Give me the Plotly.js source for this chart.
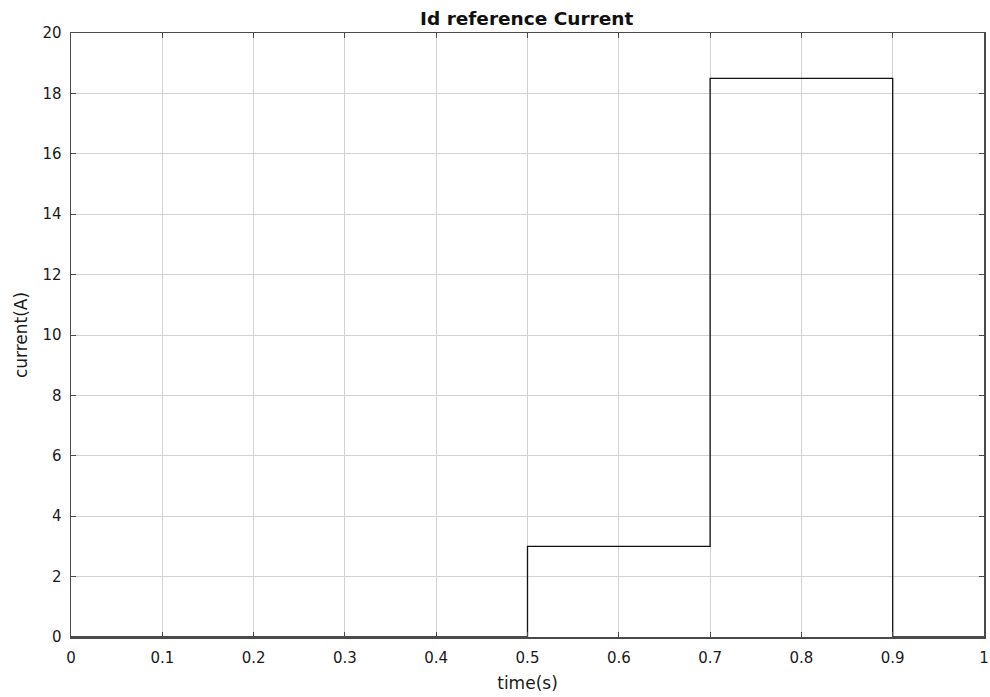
<!DOCTYPE html>
<html>
<head>
<meta charset="utf-8">
<script src="https://cdn.plot.ly/plotly-3.0.1.min.js"></script>
<style>html,body{margin:0;padding:0;background:#fff;}#chart{width:990px;height:697px;}</style>
</head>
<body>
<div id="chart"></div>
<script>
// Step signal: time (s) and current (A)
const timeS = [0, 0.5, 0.5, 0.7, 0.7, 0.9, 0.9, 1.0];
const currentA = [0, 0, 3, 3, 18.5, 18.5, 0, 0];
const xTicks = [0, 0.1, 0.2, 0.3, 0.4, 0.5, 0.6, 0.7, 0.8, 0.9, 1];
const xTickText = ['0', '0.1', '0.2', '0.3', '0.4', '0.5', '0.6', '0.7', '0.8', '0.9', '1'];
const yTicks = [0, 2, 4, 6, 8, 10, 12, 14, 16, 18, 20];

const FAM = 'DejaVu Sans, Liberation Sans, Arial, sans-serif';
const trace = {
  x: timeS, y: currentA, type: 'scatter', mode: 'lines',
  line: {color: '#111', width: 1.3}, hoverinfo: 'skip'
};
const axisCommon = {
  showline: true, linecolor: '#4a4a4a', linewidth: 1.5, mirror: 'ticks',
  ticks: 'inside', ticklen: 5, tickcolor: '#4a4a4a', tickwidth: 1,
  showgrid: true, gridcolor: '#d2d2d2', gridwidth: 1, zeroline: false,
  tickfont: {family: FAM, size: 15, color: '#1a1a1a'}
};
const layout = {
  width: 990, height: 697,
  margin: {l: 71, r: 6, t: 33, b: 60},
  paper_bgcolor: '#fff', plot_bgcolor: '#fff',
  font: {family: FAM, size: 15, color: '#1a1a1a'}, showlegend: false,
  title: {text: '<b>Id reference Current</b>', x: 0.532, xanchor: 'center', y: 0.974, yanchor: 'middle',
          font: {family: FAM, size: 18.5, color: '#111'}},
  xaxis: Object.assign({}, axisCommon, {
    range: [0, 1], tickvals: xTicks, ticktext: xTickText, ticklabelstandoff: 6,
    title: {text: 'time(s)', standoff: 11, font: {family: FAM, size: 17, color: '#1a1a1a'}}
  }),
  yaxis: Object.assign({}, axisCommon, {
    range: [0, 20], tickvals: yTicks, ticklabelstandoff: 5,
    title: {text: 'current(A)', standoff: 10, font: {family: FAM, size: 17, color: '#1a1a1a'}}
  })
};
Plotly.newPlot('chart', [trace], layout, {displayModeBar: false, staticPlot: true});
</script>
</body>
</html>
